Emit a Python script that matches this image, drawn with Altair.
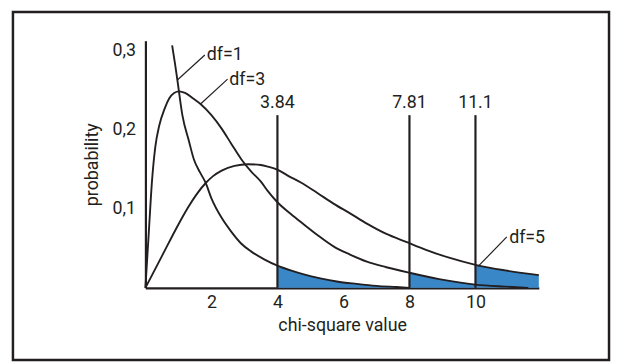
import altair as alt
import pandas as pd

# ---- data ----
a_x = [0.81, 0.9, 0.97, 1.12, 1.32, 1.47, 1.65, 1.82, 2.0, 2.3, 2.6, 2.9, 3.2, 3.6, 4.0, 4.4, 4.8, 5.3, 5.8, 6.4, 7.0, 7.6, 8.0]
a_y = [0.306, 0.282, 0.262, 0.218, 0.185, 0.162, 0.146, 0.133, 0.113, 0.089, 0.071, 0.056, 0.046, 0.036, 0.028, 0.022, 0.017, 0.012, 0.008, 0.005, 0.0025, 0.001, 0.0]

b_x = [0, 0.1, 0.2, 0.3, 0.42, 0.58, 0.72, 0.87, 1.02, 1.2, 1.45, 1.67, 2.0, 2.31, 2.6, 2.91, 3.2, 3.5, 3.71, 4.0, 4.35, 4.71, 5.2, 5.71, 6.2, 6.71, 7.3, 8.0, 8.9, 10.0, 10.9, 11.6]
b_y = [0, 0.068, 0.135, 0.178, 0.205, 0.226, 0.239, 0.246, 0.248, 0.246, 0.239, 0.232, 0.218, 0.201, 0.182, 0.162, 0.147, 0.134, 0.122, 0.108, 0.095, 0.083, 0.067, 0.052, 0.042, 0.033, 0.026, 0.019, 0.011, 0.004, 0.0015, 0.0]

c_x = [0, 0.5, 1.0, 1.3, 1.55, 1.82, 2.05, 2.31, 2.7, 3.11, 3.5, 3.71, 4.01, 4.3, 4.71, 5.2, 5.71, 6.2, 6.71, 7.3, 7.9, 8.5, 9.2, 10.0, 10.9, 11.92]
c_y = [0, 0.04, 0.08, 0.102, 0.118, 0.132, 0.141, 0.148, 0.154, 0.156, 0.155, 0.153, 0.149, 0.142, 0.133, 0.12, 0.106, 0.094, 0.081, 0.068, 0.058, 0.048, 0.038, 0.029, 0.022, 0.016]

crit_x = [4, 8, 10]
crit_labels = ["3.84", "7.81", "11.1"]
crit_top = 0.218

shade_ranges = {"A": (4, 8), "B": (8, 10), "C": (10, 11.92)}

df_labels = ["df=1", "df=3", "df=5"]
df_label_x = [1.86, 2.54, 11.02]
df_label_y = [0.294, 0.262, 0.063]
leader_x1 = [0.96, 1.67, 10.08]
leader_y1 = [0.262, 0.232, 0.027]
leader_x2 = [1.8, 2.49, 10.95]
leader_y2 = [0.294, 0.2635, 0.0643]

x_ticks = [2, 4, 6, 8, 10]
y_ticks = [0.1, 0.2, 0.3]

FONT = "Roboto"
INK = "#231f20"
BLUE = "#3a87c8"
FS = 18

# ---- tables ----
curves = pd.concat([
    pd.DataFrame({"x": a_x, "y": a_y, "curve": "A"}),
    pd.DataFrame({"x": b_x, "y": b_y, "curve": "B"}),
    pd.DataFrame({"x": c_x, "y": c_y, "curve": "C"}),
], ignore_index=True)

shade = pd.concat([
    curves[(curves.curve == k) & (curves.x >= lo) & (curves.x <= hi)]
    for k, (lo, hi) in shade_ranges.items()
], ignore_index=True)
shade["base"] = 0.0

crit = pd.DataFrame({"x": crit_x, "label": crit_labels, "y0": 0.0, "y1": crit_top, "ty": 0.227})
lbl = pd.DataFrame({"label": df_labels, "x": df_label_x, "y": df_label_y,
                    "x1": leader_x1, "y1": leader_y1, "x2": leader_x2, "y2": leader_y2})

xs = alt.Scale(domain=[0, 11.92], nice=False, zero=False)
ys = alt.Scale(domain=[0, 0.312], nice=False, zero=False)

x_axis = alt.Axis(values=x_ticks, title="chi-square value", grid=False, ticks=False,
                  domainColor=INK, domainWidth=2.2, labelPadding=6, titlePadding=5,
                  labelFont=FONT, labelFontSize=FS, labelColor=INK,
                  titleFont=FONT, titleFontSize=FS, titleFontWeight="normal", titleColor=INK)
y_axis = alt.Axis(values=y_ticks, title="probability", grid=False, ticks=False, format=".1f",
                  labelExpr="replace(datum.label, '.', ',')",
                  domainColor=INK, domainWidth=2.2, labelPadding=10, titlePadding=11,
                  labelFont=FONT, labelFontSize=FS, labelColor=INK,
                  titleFont=FONT, titleFontSize=FS, titleFontWeight="normal", titleColor=INK)

area = alt.Chart(shade).mark_area(color=BLUE, opacity=1, interpolate="monotone").encode(
    x=alt.X("x:Q", scale=xs, axis=x_axis),
    y=alt.Y("y:Q", scale=ys, axis=y_axis),
    y2="base:Q",
    detail="curve:N",
)

lines = alt.Chart(curves).mark_line(color=INK, strokeWidth=1.9, interpolate="monotone").encode(
    x=alt.X("x:Q", scale=xs),
    y=alt.Y("y:Q", scale=ys),
    detail="curve:N",
    order="x:Q",
)

rules = alt.Chart(crit).mark_rule(color=INK, strokeWidth=2.2).encode(
    x=alt.X("x:Q", scale=xs), y=alt.Y("y0:Q", scale=ys), y2="y1:Q"
)
crit_text = alt.Chart(crit).mark_text(font=FONT, fontSize=FS, color=INK, baseline="alphabetic",
                                      align="center").encode(
    x=alt.X("x:Q", scale=xs), y=alt.Y("ty:Q", scale=ys), text="label:N"
)

leaders = alt.Chart(lbl).mark_rule(color=INK, strokeWidth=1.2).encode(
    x=alt.X("x1:Q", scale=xs), y=alt.Y("y1:Q", scale=ys), x2="x2:Q", y2="y2:Q"
)
df_text = alt.Chart(lbl).mark_text(font=FONT, fontSize=FS, color=INK, align="left",
                                   baseline="middle").encode(
    x=alt.X("x:Q", scale=xs), y=alt.Y("y:Q", scale=ys), text="label:N"
)

frame = alt.Chart(pd.DataFrame({"k": [0]})).mark_rect(filled=False, stroke=INK, strokeWidth=2.5).encode(
    x=alt.value(-134), x2=alt.value(469), y=alt.value(-29), y2=alt.value(323)
)

chart = alt.layer(frame, area, lines, rules, crit_text, leaders, df_text).properties(
    width=398, height=250, padding={"left": 3, "top": 0, "right": 0, "bottom": 0}
).configure(background="white", view=alt.ViewConfig(stroke=None))

chart.save("out.html", embed_options={"renderer": "svg", "actions": False})
